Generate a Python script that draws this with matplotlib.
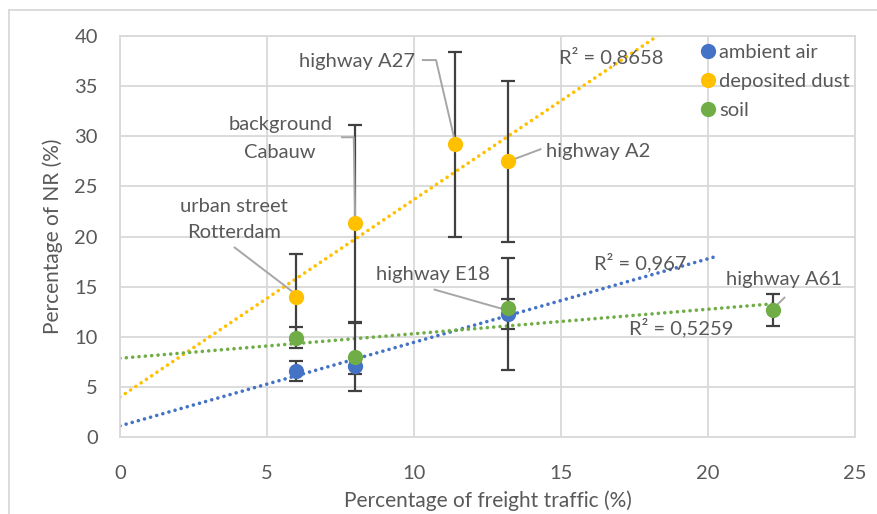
import numpy as np
import matplotlib
matplotlib.use('Agg')
import matplotlib.pyplot as plt
from matplotlib.lines import Line2D

plt.rcParams['font.family'] = ['Lato', 'DejaVu Sans']

# data
air_x = [6, 8, 13.2]
air_y = [6.6, 7.1, 12.3]
air_err = [1.0, 0.8, 5.6]

dust_x = [6, 8, 11.4, 13.2]
dust_y = [14.0, 21.3, 29.2, 27.5]
dust_err = [4.3, 9.8, 9.2, 8.0]

soil_x = [6, 8, 13.2, 22.2]
soil_y = [9.9, 8.0, 12.9, 12.7]
soil_err_lo = [1.0, 3.4, 2.1, 1.6]
soil_err_hi = [1.1, 3.4, 0.9, 1.6]

r2_air = 'R² = 0,967'
r2_dust = 'R² = 0,8658'
r2_soil = 'R² = 0,5259'

blue = '#4472C4'
yellow = '#FFC000'
green = '#70AD47'
grey = '#595959'

fig = plt.figure(figsize=(8.77, 5.14), dpi=100)
ax = fig.add_axes([120/877, 1-437/514, 735/877, 401/514])

# trendlines (linear fit, extended like excel forecast)
def trend(x, y, x0, x1, c):
    k, b = np.polyfit(x, y, 1)
    xx = np.array([x0, x1])
    ax.plot(xx, k*xx+b, color=c, lw=2.6, ls=(0, (0.01, 1.75)), zorder=2,
            dash_capstyle='round')

trend(air_x, air_y, 0, 20.2, blue)
trend(dust_x, dust_y, 0, 20, yellow)
trend(soil_x, soil_y, 0, 22.2, green)

ebkw = dict(fmt='none', ecolor='#404040', elinewidth=1.6, capsize=5, capthick=1.6, zorder=3)
ax.errorbar(dust_x, dust_y, yerr=dust_err, **ebkw)
ax.errorbar(air_x, air_y, yerr=air_err, **ebkw)
ax.errorbar(soil_x, soil_y, yerr=[soil_err_lo, soil_err_hi], **ebkw)

ms = 11
ax.plot(air_x, air_y, 'o', color=blue, ms=ms, mec='none', zorder=4, label='ambient air')
ax.plot(dust_x, dust_y, 'o', color=yellow, ms=ms, mec='none', zorder=4, label='deposited dust')
ax.plot(soil_x, soil_y, 'o', color=green, ms=ms, mec='none', zorder=4, label='soil')

ax.set_xlim(0, 25)
ax.set_ylim(0, 40)
ax.set_xticks(range(0, 26, 5))
ax.set_yticks(range(0, 41, 5))
ax.grid(True, color='#d9d9d9', lw=1.3)
ax.set_axisbelow(True)
for s in ax.spines.values():
    s.set_color('#d9d9d9')
    s.set_linewidth(1.3)
ax.tick_params(length=0, labelsize=14.5, labelcolor=grey)
ax.tick_params(axis='x', pad=20)
ax.tick_params(axis='y', pad=16)
ax.set_xlabel('Percentage of freight traffic (%)', fontsize=15, color=grey, labelpad=6)
ax.set_ylabel('Percentage of NR (%)', fontsize=15, color=grey, labelpad=8)

leg = ax.legend(loc='upper right', bbox_to_anchor=(1.012, 1.015), frameon=False, fontsize=14.5,
                labelcolor=grey, handletextpad=0.05, handlelength=1.0, borderaxespad=0.3,
                labelspacing=0.58)

# labels with leader lines
lc = '#a6a6a6'
tk = dict(fontsize=14.5, color=grey)
def lead(pts):
    xs, ys = zip(*pts)
    ax.plot(xs, ys, color=lc, lw=1.4, zorder=3.5, clip_on=False)

ax.text(10.05, 37.5, 'highway A27', ha='right', va='center', **tk)
lead([(10.3, 37.6), (10.75, 37.6), (11.4, 29.4)])

ax.text(5.45, 31.2, 'background', ha='center', va='center', **tk)
ax.text(5.45, 28.4, 'Cabauw', ha='center', va='center', **tk)
lead([(7.55, 29.9), (7.95, 29.9), (8.0, 21.5)])

ax.text(3.88, 23.0, 'urban street', ha='center', va='center', **tk)
ax.text(3.88, 20.4, 'Rotterdam', ha='center', va='center', **tk)
lead([(3.9, 18.9), (6.0, 14.2)])

ax.text(14.5, 28.5, 'highway A2', ha='left', va='center', **tk)
lead([(14.3, 28.7), (13.3, 27.6)])

ax.text(10.65, 16.2, 'highway E18', ha='center', va='center', **tk)
lead([(10.7, 14.7), (13.1, 12.7)])

ax.text(22.6, 15.7, 'highway A61', ha='center', va='center', **tk)
lead([(22.25, 12.9), (22.6, 13.9)])

ax.text(16.7, 37.9, r2_dust, ha='center', va='center', **tk)
ax.text(17.7, 17.4, r2_air, ha='center', va='center', **tk)
ax.text(19.1, 10.9, r2_soil, ha='center', va='center', **tk)

# outer chart frame
fig.add_artist(Line2D([9/877, 1], [1-10/514, 1-10/514], color='#d9d9d9', lw=1.3))
fig.add_artist(Line2D([9/877, 9/877], [0, 1-10/514], color='#d9d9d9', lw=1.3))

fig.savefig('out.png', dpi=100, facecolor='white')
